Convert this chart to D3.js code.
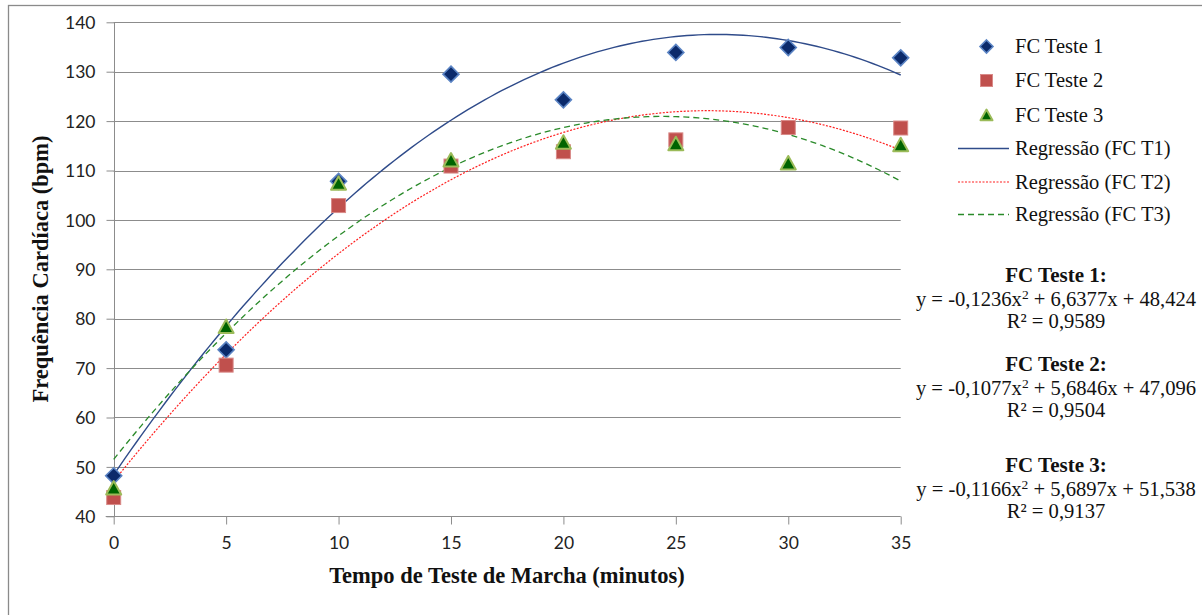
<!DOCTYPE html>
<html><head><meta charset="utf-8">
<script src="https://cdn.jsdelivr.net/npm/d3@7"></script>
<style>
html,body{margin:0;padding:0;background:#fff;}
svg{display:block;}
</style></head>
<body>
<svg id="chart" width="1202" height="615"></svg>
<script>
const minutes = [0, 5, 10, 15, 20, 25, 30, 35];
const fcTeste1 = [48.2, 73.7, 107.8, 129.5, 124.3, 133.9, 134.9, 132.8];
const fcTeste2 = [43.8, 70.6, 102.9, 110.9, 113.8, 116.2, 118.7, 118.6];
const fcTeste3 = [45.5, 78.2, 107.2, 111.9, 115.5, 115.2, 111.3, 115.0];
// trendline coefficients [a, b, c] for y = a x^2 + b x + c (as printed on chart)
const regT1 = [-0.1236, 6.6377, 48.424];
const regT2 = [-0.1077, 5.6846, 47.096];
const regT3 = [-0.1166, 5.6897, 51.538];
const yTicks = [40, 50, 60, 70, 80, 90, 100, 110, 120, 130, 140];
const xTicks = [0, 5, 10, 15, 20, 25, 30, 35];
const legendLabels = ["FC Teste 1", "FC Teste 2", "FC Teste 3", "Regressão (FC T1)", "Regressão (FC T2)", "Regressão (FC T3)"];
const eqTitles = ["FC Teste 1:", "FC Teste 2:", "FC Teste 3:"];
const eqLines = [
  ["-0,1236", "6,6377", "48,424", "0,9589"],
  ["-0,1077", "5,6846", "47,096", "0,9504"],
  ["-0,1166", "5,6897", "51,538", "0,9137"]
];

const svg = d3.select("#chart");
const x = d3.scaleLinear().domain([0, 35]).range([113.7, 900.7]);
const y = d3.scaleLinear().domain([40, 140]).range([516.3, 22.3]);

// outer frame
svg.append("rect").attr("x", 8.5).attr("y", 5.5).attr("width", 1210).attr("height", 640)
  .attr("fill", "none").attr("stroke", "#8a8a8a").attr("stroke-width", 1.3);

const tickFont = "Lato, 'Open Sans', sans-serif";
const serif = "'Liberation Serif', 'Times New Roman', serif";

// gridlines
svg.append("g").selectAll("line").data(yTicks.slice(1)).join("line")
  .attr("x1", x(0)).attr("x2", x(35))
  .attr("y1", d => Math.round(y(d)) + 0.5).attr("y2", d => Math.round(y(d)) + 0.5)
  .attr("stroke", "#8c8c8c").attr("stroke-width", 1);

// y axis
const yAxis = d3.axisLeft(y).tickValues(yTicks).tickSize(8).tickPadding(11).tickFormat(d3.format("d"));
const gy = svg.append("g").attr("transform", `translate(${Math.round(x(0)) + 0.5},0)`).call(yAxis);
gy.select(".domain").attr("stroke", "#8c8c8c").attr("d", `M0,${y(140)}V${y(40)}`);
gy.selectAll(".tick line").attr("stroke", "#8c8c8c");
gy.selectAll(".tick text").attr("font-family", tickFont).attr("font-size", 17.5).attr("fill", "#222").attr("dy", "0.35em");

// x axis
const xAxis = d3.axisBottom(x).tickValues(xTicks).tickSize(8).tickPadding(12).tickFormat(d3.format("d"));
const gx = svg.append("g").attr("transform", `translate(0,${Math.round(y(40)) + 0.5})`).call(xAxis);
gx.select(".domain").attr("stroke", "#8c8c8c").attr("d", `M${x(0) - 8},0H${x(35)}`);
gx.selectAll(".tick line").attr("stroke", "#8c8c8c");
gx.selectAll(".tick text").attr("font-family", tickFont).attr("font-size", 17.5).attr("fill", "#222");

// axis titles
svg.append("text").attr("x", 507).attr("y", 583).attr("text-anchor", "middle")
  .attr("font-family", serif).attr("font-weight", "bold").attr("font-size", 22.5).attr("fill", "#111")
  .text("Tempo de Teste de Marcha (minutos)");
svg.append("text").attr("transform", "translate(48,269) rotate(-90)").attr("text-anchor", "middle")
  .attr("font-family", serif).attr("font-weight", "bold").attr("font-size", 22.5).attr("fill", "#111")
  .text("Frequência Cardíaca (bpm)");

// regression curves
const sampleX = d3.range(0, 35.001, 0.25);
const poly = c => xv => c[0] * xv * xv + c[1] * xv + c[2];
const line = d3.line().x(d => x(d[0])).y(d => y(d[1])).curve(d3.curveLinear);
const curves = [
  {c: regT1, color: "#2f4b8a", dash: null, w: 1.4},
  {c: regT2, color: "#ff2020", dash: "2,1.5", w: 1.2},
  {c: regT3, color: "#2a8a2a", dash: "6,4", w: 1.3}
];
curves.forEach(cv => {
  const f = poly(cv.c);
  svg.append("path").datum(sampleX.map(v => [v, f(v)]))
    .attr("d", line).attr("fill", "none").attr("stroke", cv.color)
    .attr("stroke-width", cv.w).attr("stroke-dasharray", cv.dash);
});

// markers
function diamond(g, cx, cy, r) {
  g.append("path").attr("d", `M${cx},${cy - r}L${cx + r},${cy}L${cx},${cy + r}L${cx - r},${cy}Z`)
    .attr("fill", "#0b2a6b").attr("stroke", "#5b84c4").attr("stroke-width", 1.6);
}
function square(g, cx, cy, s) {
  g.append("rect").attr("x", cx - s / 2).attr("y", cy - s / 2).attr("width", s).attr("height", s)
    .attr("fill", "#c0504d").attr("stroke", "#d98a88").attr("stroke-width", 1);
}
function triangle(g, cx, cy, s) {
  const h = s * 0.9;
  g.append("path").attr("d", `M${cx},${cy - h * 0.6}L${cx + s / 2},${cy + h * 0.4}L${cx - s / 2},${cy + h * 0.4}Z`)
    .attr("fill", "#006400").attr("stroke", "#9bbb59").attr("stroke-width", 2).attr("stroke-linejoin", "round");
}
const gm = svg.append("g");
minutes.forEach((m, i) => diamond(gm, x(m), y(fcTeste1[i]), 8));
minutes.forEach((m, i) => square(gm, x(m), y(fcTeste2[i]), 14));
minutes.forEach((m, i) => triangle(gm, x(m), y(fcTeste3[i]), 15));

// legend
const lg = svg.append("g");
const legY = [46.5, 80.5, 115, 148.5, 182, 214.5];
const lx = 986.5;
diamond(lg, lx, legY[0], 6.5);
square(lg, lx, legY[1], 12);
triangle(lg, lx, legY[2] + 1, 12);
curves.forEach((cv, i) => {
  lg.append("line").attr("x1", 958).attr("x2", 1009).attr("y1", legY[3 + i]).attr("y2", legY[3 + i])
    .attr("stroke", cv.color).attr("stroke-width", cv.w).attr("stroke-dasharray", cv.dash);
});
legendLabels.forEach((t, i) => {
  lg.append("text").attr("x", 1015).attr("y", legY[i]).attr("dy", "0.33em")
    .attr("font-family", serif).attr("font-size", 20.5).attr("fill", "#111").text(t);
});

// equations
const eqBase = [281.5, 371, 472];
const eqX = 1056;
eqTitles.forEach((t, i) => {
  const b = eqBase[i];
  svg.append("text").attr("x", eqX).attr("y", b).attr("text-anchor", "middle")
    .attr("font-family", serif).attr("font-weight", "bold").attr("font-size", 21).attr("fill", "#111").text(t);
  const e = eqLines[i];
  const t2 = svg.append("text").attr("x", eqX).attr("y", b + 24).attr("text-anchor", "middle")
    .attr("font-family", serif).attr("font-size", 20.6).attr("fill", "#111");
  t2.append("tspan").text(`y = ${e[0]}x`);
  t2.append("tspan").attr("dy", -7).attr("font-size", 13.5).text("2");
  t2.append("tspan").attr("dy", 7).text(` + ${e[1]}x + ${e[2]}`);
  svg.append("text").attr("x", eqX).attr("y", b + 46).attr("text-anchor", "middle")
    .attr("font-family", serif).attr("font-size", 20.6).attr("fill", "#111").text(`R² = ${e[3]}`);
});
</script>
</body></html>
